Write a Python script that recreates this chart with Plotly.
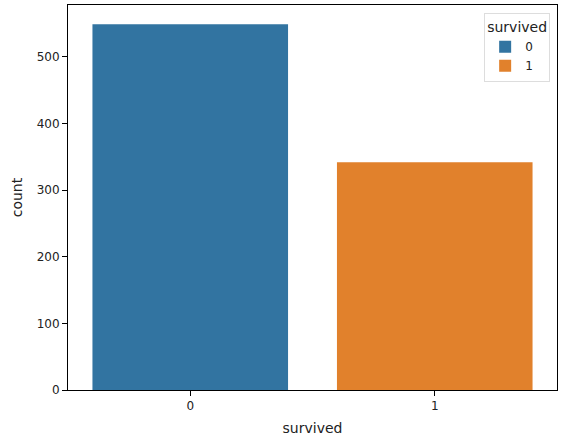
import plotly.graph_objects as go

# survived counts (titanic)
categories = ["0", "1"]
counts = [549, 342]
colors = ["#3274a1", "#e1812c"]

fig = go.Figure()
for cat, cnt, col in zip(categories, counts, colors):
    fig.add_trace(
        go.Bar(
            x=[cat],
            y=[cnt],
            name=cat,
            marker=dict(color=col, line=dict(width=0)),
            width=0.8,
        )
    )

axis_style = dict(
    showline=True,
    linecolor="black",
    linewidth=1,
    mirror=True,
    ticks="outside",
    ticklen=5,
    tickcolor="black",
    showgrid=False,
    zeroline=False,
    tickfont=dict(size=12),
)

fig.update_layout(
    width=566,
    height=439,
    margin=dict(l=68, r=9, t=5, b=49),
    plot_bgcolor="white",
    paper_bgcolor="white",
    font=dict(family="DejaVu Sans", size=12, color="#222222"),
    barmode="overlay",
    showlegend=True,
    legend=dict(
        title=dict(text="survived", side="top center"),
        x=0.986,
        y=0.979,
        xanchor="right",
        yanchor="top",
        bordercolor="#dddddd",
        borderwidth=1,
        bgcolor="rgba(255,255,255,0.8)",
        font=dict(size=12),
        itemwidth=30,
    ),
    xaxis=dict(axis_style, title=dict(text="survived", standoff=10), type="category", range=[-0.5, 1.5]),
    yaxis=dict(axis_style, title=dict(text="count", standoff=10), range=[0, 578], tickvals=[0, 100, 200, 300, 400, 500]),
)

fig.write_html(
    "out.html",
    config={"displayModeBar": False},
    post_script="document.body.style.margin='0px';",
)
